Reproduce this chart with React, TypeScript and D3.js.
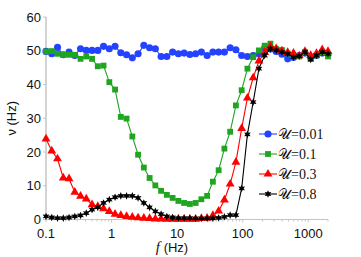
import React from "react";
import * as d3 from "d3";

// driving frequencies (Hz), log spaced 0.1 .. 2000
const freqs = [
  0.1, 0.1224, 0.1498, 0.1834, 0.2245, 0.2748, 0.3363, 0.4117, 0.5039, 0.6166,
  0.7547, 0.9238, 1.1307, 1.3839, 1.6939, 2.0733, 2.5376, 3.1059, 3.8015, 4.6529,
  5.695, 6.9705, 8.5316, 10.443, 12.781, 15.644, 19.148, 23.436, 28.685, 35.11,
  42.973, 52.597, 64.377, 78.795, 96.442, 118.04, 144.48, 176.84, 216.44, 264.92,
  324.25, 396.87, 485.75, 594.54, 727.7, 890.67, 1090.2, 1334.3, 1633.1, 2000,
];

const u001 = [
  49.8, 49.1, 51.0, 48.8, 49.6, 48.6, 50.6, 50.1, 50.1, 50.1,
  51.3, 50.6, 51.3, 49.4, 48.8, 47.9, 49.1, 51.6, 50.9, 50.6,
  48.3, 48.3, 49.6, 49.1, 49.3, 48.9, 49.1, 49.6, 48.6, 49.6,
  49.6, 49.6, 50.9, 50.3, 48.6, 48.3, 48.6, 49.1, 50.9, 50.5,
  49.8, 49.0, 47.6, 48.0, 48.6, 49.3, 47.9, 48.6, 49.3, 49.0,
];

const u01 = [
  49.8, 49.9, 49.1, 48.8, 48.8, 48.8, 47.6, 48.3, 47.6, 45.4,
  45.6, 40.7, 38.5, 30.4, 29.9, 24.6, 19.2, 15.4, 12.3, 10.1,
  8.5, 7.3, 6.4, 5.5, 4.9, 4.6, 4.9, 6.0, 7.0, 11.2,
  14.6, 21.0, 26.0, 33.8, 38.3, 44.7, 48.1, 50.1, 51.5, 52.1,
  50.5, 50.2, 49.2, 48.6, 48.3, 49.6, 47.6, 48.6, 49.6, 48.3,
];

const u03 = [
  23.9, 20.3, 18.0, 12.3, 12.1, 8.1, 6.9, 6.1, 4.4, 3.9,
  3.2, 2.4, 1.6, 1.2, 0.9, 0.7, 0.5, 0.4, 0.3, 0.2,
  0.2, 0.1, 0.1, 0.1, 0.1, 0.1, 0.1, 0.3, 0.4, 1.2,
  2.5, 5.8, 10.5, 17.0, 27.0, 36.0, 42.0, 47.0, 49.5, 51.3,
  50.6, 50.0, 49.5, 49.3, 48.5, 49.8, 48.6, 49.2, 50.3, 49.8,
];

const u08 = [
  0.9, 0.6, 0.4, 0.4, 0.6, 0.9, 1.2, 1.9, 2.9, 3.6,
  4.9, 5.9, 6.6, 7.0, 7.0, 7.0, 6.4, 4.9, 3.6, 2.4,
  1.6, 0.9, 0.6, 0.4, 0.4, 0.4, 0.35, 0.35, 0.35, 0.35,
  0.5, 0.8, 1.3, 1.3, 9.2, 25.2, 34.8, 44.7, 48.6, 50.6,
  50.1, 49.6, 49.1, 48.1, 48.4, 49.6, 47.4, 48.6, 49.6, 49.1,
];

const seriesLabels = ["=0.01", "=0.1", "=0.3", "=0.8"];
const yTicks = [0, 10, 20, 30, 40, 50, 60];
const xTicks = [0.1, 1, 10, 100, 1000];

const width = 361;
const height = 257;
const margin = { top: 17, right: 33, bottom: 37.5, left: 46 };

// six pointed star marker
const star6 = {
  draw(ctx: any, size: number) {
    const r = Math.sqrt(size) * 0.62;
    const ri = r * 0.5;
    for (let k = 0; k < 12; k++) {
      const a = (k * Math.PI) / 6 - Math.PI / 2;
      const rr = k % 2 === 0 ? r : ri;
      const x = rr * Math.cos(a);
      const y = rr * Math.sin(a);
      if (k === 0) ctx.moveTo(x, y);
      else ctx.lineTo(x, y);
    }
    ctx.closePath();
  },
};

const series = [
  { values: u001, color: "#2443ff", type: d3.symbolCircle, size: 40 },
  { values: u01, color: "#1fa51f", type: d3.symbolSquare, size: 34 },
  { values: u03, color: "#ff0000", type: d3.symbolTriangle, size: 34 },
  { values: u08, color: "#000000", type: star6, size: 38 },
];

export default function App() {
  const x = d3
    .scaleLog()
    .domain([0.1, 2000])
    .range([margin.left, width - margin.right]);
  const y = d3
    .scaleLinear()
    .domain([0, 60])
    .range([height - margin.bottom, margin.top]);

  const line = d3
    .line<number>()
    .x((_, i) => x(freqs[i]))
    .y((d) => y(d));

  const minorTicks = x.ticks().filter((t) => !xTicks.includes(t));
  const axisColor = "#c4c4c4";
  const font = "'Liberation Sans', Arial, sans-serif";

  return (
    <svg
      width={width}
      height={height}
      style={{ position: "absolute", left: 0, top: 0, background: "#fff" }}
    >
      {/* axes */}
      <line
        x1={x(0.1)}
        x2={x(0.1)}
        y1={y(0)}
        y2={y(60)}
        stroke={axisColor}
        strokeWidth={1.5}
      />
      <line
        x1={x(0.1)}
        x2={x(2000)}
        y1={y(0)}
        y2={y(0)}
        stroke={axisColor}
        strokeWidth={1.2}
      />
      {yTicks.map((t) => (
        <g key={t}>
          <line
            x1={x(0.1) - 3}
            x2={x(0.1)}
            y1={y(t)}
            y2={y(t)}
            stroke={axisColor}
          />
          <text
            x={x(0.1) - 5}
            y={y(t)}
            dy="0.36em"
            textAnchor="end"
            fontFamily={font}
            fontSize={13}
            fill="#111"
          >
            {t}
          </text>
        </g>
      ))}
      {minorTicks.map((t) => (
        <line
          key={t}
          x1={x(t)}
          x2={x(t)}
          y1={y(0)}
          y2={y(0) + 2}
          stroke={axisColor}
        />
      ))}
      {xTicks.map((t) => (
        <g key={t}>
          <line
            x1={x(t)}
            x2={x(t)}
            y1={y(0)}
            y2={y(0) + 3}
            stroke={axisColor}
          />
          <text
            x={x(t)}
            y={y(0) + 18}
            textAnchor="middle"
            fontFamily={font}
            fontSize={13}
            fill="#111"
          >
            {t}
          </text>
        </g>
      ))}

      {/* axis labels */}
      <text
        transform={`translate(16,${(y(0) + y(60)) / 2}) rotate(-90)`}
        textAnchor="middle"
        fontFamily={font}
        fontSize={13}
        fill="#111"
      >
        ν (Hz)
      </text>
      <text
        x={172}
        y={252}
        textAnchor="middle"
        fontFamily={font}
        fontSize={13}
        fill="#111"
      >
        <tspan
          fontFamily="'Liberation Serif', serif"
          fontStyle="italic"
          fontSize={15}
        >
          f
        </tspan>{" "}
        (Hz)
      </text>

      {/* series */}
      {series.map((s, si) => (
        <g key={si}>
          <path
            d={line(s.values) || ""}
            fill="none"
            stroke={s.color}
            strokeWidth={1.1}
          />
          {s.values.map((v, i) => (
            <path
              key={i}
              transform={`translate(${x(freqs[i])},${y(v)})`}
              d={d3.symbol().type(s.type).size(s.size)() || ""}
              fill={s.color}
            />
          ))}
        </g>
      ))}

      {/* legend */}
      {series.map((s, si) => {
        const ly = 134 + si * 20;
        return (
          <g key={si}>
            <line
              x1={259}
              x2={277}
              y1={ly}
              y2={ly}
              stroke={s.color}
              strokeWidth={1.1}
            />
            <path
              transform={`translate(268,${ly})`}
              d={d3.symbol().type(s.type).size(s.size)() || ""}
              fill={s.color}
            />
            <text
              x={278}
              y={ly}
              dy="0.36em"
              fontFamily="'Liberation Serif', 'DejaVu Serif', serif"
              fontSize={14}
              fill="#111"
            >
              <tspan fontFamily="'DejaVu Sans', 'DejaVu Serif', serif">𝒰</tspan>
              {seriesLabels[si]}
            </text>
          </g>
        );
      })}
    </svg>
  );
}
